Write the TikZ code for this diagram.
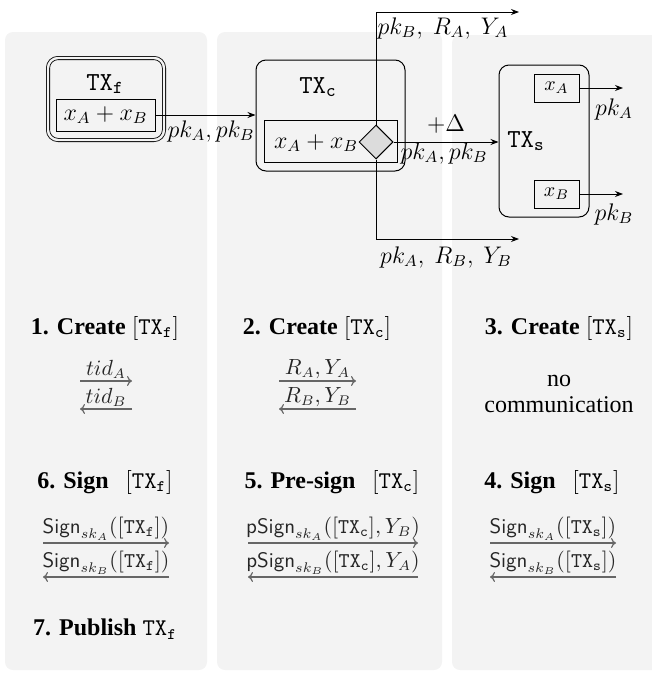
\documentclass[tikz,border=0pt]{standalone}
\usepackage{fontspec}
\setmainfont{Liberation Serif}
\usetikzlibrary{arrows.meta,shapes.geometric}
\definecolor{panelgray}{HTML}{F3F3F3}
\definecolor{diagray}{HTML}{DCDCDC}
\newcommand{\TXs}[1]{\mathtt{TX}_{\mathtt{#1}}}
\begin{document}
\begin{tikzpicture}[x=0.5pt,y=-0.5pt,
  panel/.style={fill=panelgray,draw=none,rounded corners=4pt},
  sbox/.style={draw,line width=0.5pt,inner sep=0pt},
  rbox/.style={draw,rounded corners=5pt,line width=0.5pt,inner sep=0pt},
  dlbl/.style={inner sep=0pt,font=\fontsize{12}{14}\selectfont},
  arr/.style={-{Stealth[length=4pt,width=3pt]},line width=0.5pt},
  comm/.style={-{To[length=2.5pt,width=5pt]},line width=0.6pt,draw=black!60},
  clbl/.style={inner sep=1pt,font=\fontsize{10.5}{12}\selectfont,text=black!85},
  head/.style={inner sep=0pt,font=\fontsize{12}{14}\selectfont}]
\useasboundingbox (0,0) rectangle (652,675);
\clip (0,0) rectangle (652,675);
% panels
\fill[panelgray,rounded corners=4pt] (5,32) rectangle (207,670);
\fill[panelgray,rounded corners=4pt] (217,32) rectangle (442,670);
\fill[panelgray,rounded corners=4pt] (452,35) rectangle (670,670);
% TX_f
\node[rbox,double=panelgray,double distance=1.2pt,line width=0.4pt,
      minimum width=58pt,minimum height=41pt] (txf) at (106,99) {};
\node[sbox,minimum width=49.5pt,minimum height=16pt] (fin) at (105.5,115) {};
\node[dlbl] (fxab) at (105.5,115) {$x_A+x_B$};
\node[dlbl,font=\fontsize{13}{15}\selectfont] (ftx) at (105,84) {$\TXs{f}$};
% TX_c
\node[rbox,minimum width=74.5pt,minimum height=55.5pt] (txc) at (330.5,115.5) {};
\node[sbox,minimum width=66.5pt,minimum height=21pt] (cin) at (330.5,141) {};
\node[diamond,draw,fill=diagray,line width=0.5pt,inner sep=0pt,
      minimum width=17pt,minimum height=17pt] (dia) at (376,142) {};
\node[dlbl] (cxab) at (316,143) {$x_A+x_B$};
\node[dlbl,font=\fontsize{13}{15}\selectfont] (ctx) at (318,87) {$\TXs{c}$};
% TX_s
\node[rbox,minimum width=45pt,minimum height=76pt] (txs) at (544,141) {};
\node[sbox,minimum width=22.5pt,minimum height=14pt] (sxa) at (556.5,88) {$x_A$};
\node[sbox,minimum width=22.5pt,minimum height=14pt] (sxb) at (556.5,194) {$x_B$};
\node[dlbl,font=\fontsize{13}{15}\selectfont] (stx) at (526,141) {$\TXs{s}$};
% connectors
\draw[arr] (fin.east) -- (fin.east -| txc.west);
\node[dlbl] (l1) at (211,131) {$pk_A, pk_B$};
\coordinate (up) at (519,12);
\coordinate (dn) at (519,239);
\draw[arr] (dia.north) |- (up);
\draw[arr] (dia.south) |- (dn);
\draw[arr] (dia.east) -- (dia.east -| txs.west);
\node[dlbl] (l2) at (443,28) {$pk_B,\ R_A,\ Y_A$};
\node[dlbl] (l3) at (446,257) {$pk_A,\ R_B,\ Y_B$};
\node[dlbl] (l4) at (446,124) {$+\Delta$};
\node[dlbl] (l5) at (444,153) {$pk_A, pk_B$};
\coordinate (oa) at (623,88);
\coordinate (ob) at (623,194);
\draw[arr] (sxa.east) -- (oa);
\draw[arr] (sxb.east) -- (ob);
\node[dlbl] (l6) at (614,109) {$pk_A$};
\node[dlbl] (l7) at (614,214) {$pk_B$};
% headings
\node[head] (h1) at (105,328) {\textbf{1. Create} $[\TXs{f}]$};
\node[head] (h2) at (317,328) {\textbf{2. Create} $[\TXs{c}]$};
\node[head] (h3) at (559,328) {\textbf{3. Create} $[\TXs{s}]$};
\node[head] (h6) at (105,482) {\textbf{6. Sign}\hspace{0.7em}$[\TXs{f}]$};
\node[head] (h5) at (332,482) {\textbf{5. Pre-sign}\hspace{0.7em}$[\TXs{c}]$};
\node[head] (h4) at (552,482) {\textbf{4. Sign}\hspace{0.7em}$[\TXs{s}]$};
\node[head] (h7) at (105,629) {\textbf{7. Publish} $\TXs{f}$};
\node[head,align=center,font=\fontsize{12}{13}\selectfont] (nc) at (559,394) {no\\communication};
% communication arrows row 1
\coordinate (a1s) at (80,381); \coordinate (a1e) at (132,381);
\coordinate (b1s) at (132,409); \coordinate (b1e) at (80,409);
\draw[comm] (a1s) -- (a1e) node[clbl,midway,above] (t1) {$tid_A$};
\draw[comm] (b1s) -- (b1e) node[clbl,midway,above] (t2) {$tid_B$};
\coordinate (a2s) at (279,381); \coordinate (a2e) at (356,381);
\coordinate (b2s) at (356,409); \coordinate (b2e) at (279,409);
\draw[comm] (a2s) -- (a2e) node[clbl,midway,above] (t3) {$R_A,Y_A$};
\draw[comm] (b2s) -- (b2e) node[clbl,midway,above] (t4) {$R_B,Y_B$};
% communication arrows row 2
\coordinate (c1s) at (43,543); \coordinate (c1e) at (169,543);
\coordinate (d1s) at (169,577); \coordinate (d1e) at (43,577);
\draw[comm] (c1s) -- (c1e) node[clbl,midway,above] (s1) {$\mathsf{Sign}_{sk_A}([\TXs{f}])$};
\draw[comm] (d1s) -- (d1e) node[clbl,midway,above] (s2) {$\mathsf{Sign}_{sk_B}([\TXs{f}])$};
\coordinate (c2s) at (248,543); \coordinate (c2e) at (418,543);
\coordinate (d2s) at (418,577); \coordinate (d2e) at (248,577);
\draw[comm] (c2s) -- (c2e) node[clbl,midway,above] (s3) {$\mathsf{pSign}_{sk_A}([\TXs{c}],Y_B)$};
\draw[comm] (d2s) -- (d2e) node[clbl,midway,above] (s4) {$\mathsf{pSign}_{sk_B}([\TXs{c}],Y_A)$};
\coordinate (c3s) at (490,543); \coordinate (c3e) at (616,543);
\coordinate (d3s) at (616,577); \coordinate (d3e) at (490,577);
\draw[comm] (c3s) -- (c3e) node[clbl,midway,above] (s5) {$\mathsf{Sign}_{sk_A}([\TXs{s}])$};
\draw[comm] (d3s) -- (d3e) node[clbl,midway,above] (s6) {$\mathsf{Sign}_{sk_B}([\TXs{s}])$};
\end{tikzpicture}
\end{document}
